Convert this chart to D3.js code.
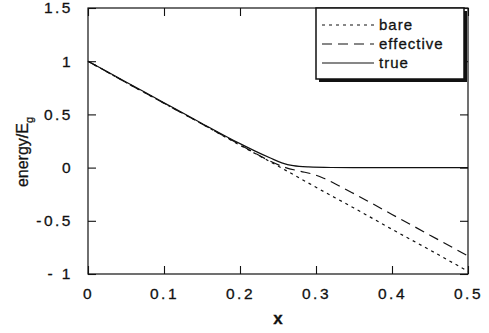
<!DOCTYPE html>
<html>
<head>
<meta charset="utf-8">
<script src="https://cdn.jsdelivr.net/npm/d3@7"></script>
<style>
  body { margin: 0; background: #fff; }
  text { font-family: "Liberation Sans", Arial, sans-serif; fill: #111; stroke: #111; stroke-width: 0.3px; }
</style>
</head>
<body>
<svg id="chart" width="489" height="333"></svg>
<script>
// band energies vs x
var xTicks = [0, 0.1, 0.2, 0.3, 0.4, 0.5];
var xTickLabels = ["0", "0.1", "0.2", "0.3", "0.4", "0.5"];
var yTicks = [-1, -0.5, 0, 0.5, 1, 1.5];
var yTickLabels = ["- 1", "-0.5", "0", "0.5", "1", "1.5"];

var bareX = [0, 0.05, 0.1, 0.15, 0.2, 0.25, 0.3, 0.35, 0.4, 0.45, 0.5];
var bareY = [1, 0.8, 0.605, 0.41, 0.21, 0.015, -0.185, -0.38, -0.58, -0.775, -0.975];

var effX = [0, 0.05, 0.1, 0.15, 0.2, 0.24, 0.26, 0.28, 0.295, 0.31, 0.33, 0.35, 0.4, 0.45, 0.5];
var effY = [1, 0.8, 0.605, 0.41, 0.215, 0.06, 0.0, -0.035, -0.06, -0.1, -0.17, -0.245, -0.44, -0.635, -0.83];

var trueX = [0, 0.05, 0.1, 0.15, 0.2, 0.22, 0.24, 0.255, 0.27, 0.29, 0.32, 0.35, 0.4, 0.45, 0.5];
var trueY = [1, 0.805, 0.61, 0.415, 0.225, 0.155, 0.09, 0.045, 0.018, 0.006, 0.001, 0, 0, 0, 0];

var seriesNames = ["bare", "effective", "true"];

var svg = d3.select("#chart"),
    margin = {left: 88, right: 21, top: 8, bottom: 59},
    width = 489 - margin.left - margin.right,
    height = 333 - margin.top - margin.bottom,
    g = svg.append("g").attr("transform", "translate(" + margin.left + "," + margin.top + ")");

var x = d3.scaleLinear().domain([0, 0.5]).range([0, width]);
var y = d3.scaleLinear().domain([-1, 1.5]).range([height, 0]);

var styles = {
  bare: {dash: "3,4"},
  effective: {dash: "10,6"},
  "true": {dash: null}
};

var series = [
  {name: "bare", xs: bareX, ys: bareY},
  {name: "effective", xs: effX, ys: effY},
  {name: "true", xs: trueX, ys: trueY}
];

var line = d3.line()
    .x(function(d) { return x(d[0]); })
    .y(function(d) { return y(d[1]); })
    .curve(d3.curveMonotoneX);

series.forEach(function(s) {
  var pts = s.xs.map(function(v, i) { return [v, s.ys[i]]; });
  g.append("path")
    .datum(pts)
    .attr("fill", "none")
    .attr("stroke", "#111")
    .attr("stroke-width", 1.2)
    .attr("stroke-dasharray", styles[s.name].dash)
    .attr("d", line);
});

// frame with inward ticks on all sides
g.append("rect")
  .attr("width", width).attr("height", height)
  .attr("fill", "none").attr("stroke", "#111").attr("stroke-width", 1.2);

var tickLen = 8;
g.append("g").attr("transform", "translate(0," + height + ")")
  .call(d3.axisBottom(x).tickValues(xTicks).tickSize(-tickLen).tickPadding(14)
    .tickFormat(function(d, i) { return xTickLabels[i]; }))
  .call(styleAxis);
g.append("g")
  .call(d3.axisTop(x).tickValues(xTicks).tickSize(-tickLen).tickFormat(""))
  .call(styleAxis);
g.append("g")
  .call(d3.axisLeft(y).tickValues(yTicks).tickSize(-tickLen).tickPadding(15)
    .tickFormat(function(d, i) { return yTickLabels[i]; }))
  .call(styleAxis);
g.append("g").attr("transform", "translate(" + width + ",0)")
  .call(d3.axisRight(y).tickValues(yTicks).tickSize(-tickLen).tickFormat(""))
  .call(styleAxis);

function styleAxis(sel) {
  sel.select(".domain").remove();
  sel.selectAll(".tick line").attr("stroke", "#111").attr("stroke-width", 1.1);
  sel.selectAll(".tick text")
    .style("font-size", "15.5px")
    .style("letter-spacing", "2.5px")
    .attr("fill", "#111");
}

// axis titles
svg.append("text")
  .attr("x", margin.left + width / 2)
  .attr("y", 324)
  .attr("text-anchor", "middle")
  .style("font-size", "17px")
  .style("font-weight", "bold")
  .text("x");

var yl = svg.append("text")
  .attr("transform", "translate(28," + 152 + ") rotate(-90)")
  .attr("text-anchor", "middle")
  .style("font-size", "16px");
yl.append("tspan").text("energy/E");
yl.append("tspan").attr("dy", 5).style("font-size", "11px").text("g");

// legend box with shadow
var lg = svg.append("g").attr("transform", "translate(316,8)");
lg.append("rect")
  .attr("x", 3).attr("y", 3).attr("width", 148).attr("height", 71)
  .attr("fill", "#111");
lg.append("rect")
  .attr("width", 148).attr("height", 71)
  .attr("fill", "#fff").attr("stroke", "#111").attr("stroke-width", 1.5);

seriesNames.forEach(function(name, i) {
  var yy = 17 + i * 19;
  lg.append("line")
    .attr("x1", 6).attr("x2", 58).attr("y1", yy).attr("y2", yy)
    .attr("stroke", "#111").attr("stroke-width", 1.1)
    .attr("stroke-dasharray", styles[name].dash);
  lg.append("text")
    .attr("x", 63).attr("y", yy + 5)
    .style("font-size", "15px")
    .style("letter-spacing", "1px")
    .text(name);
});
</script>
</body>
</html>
